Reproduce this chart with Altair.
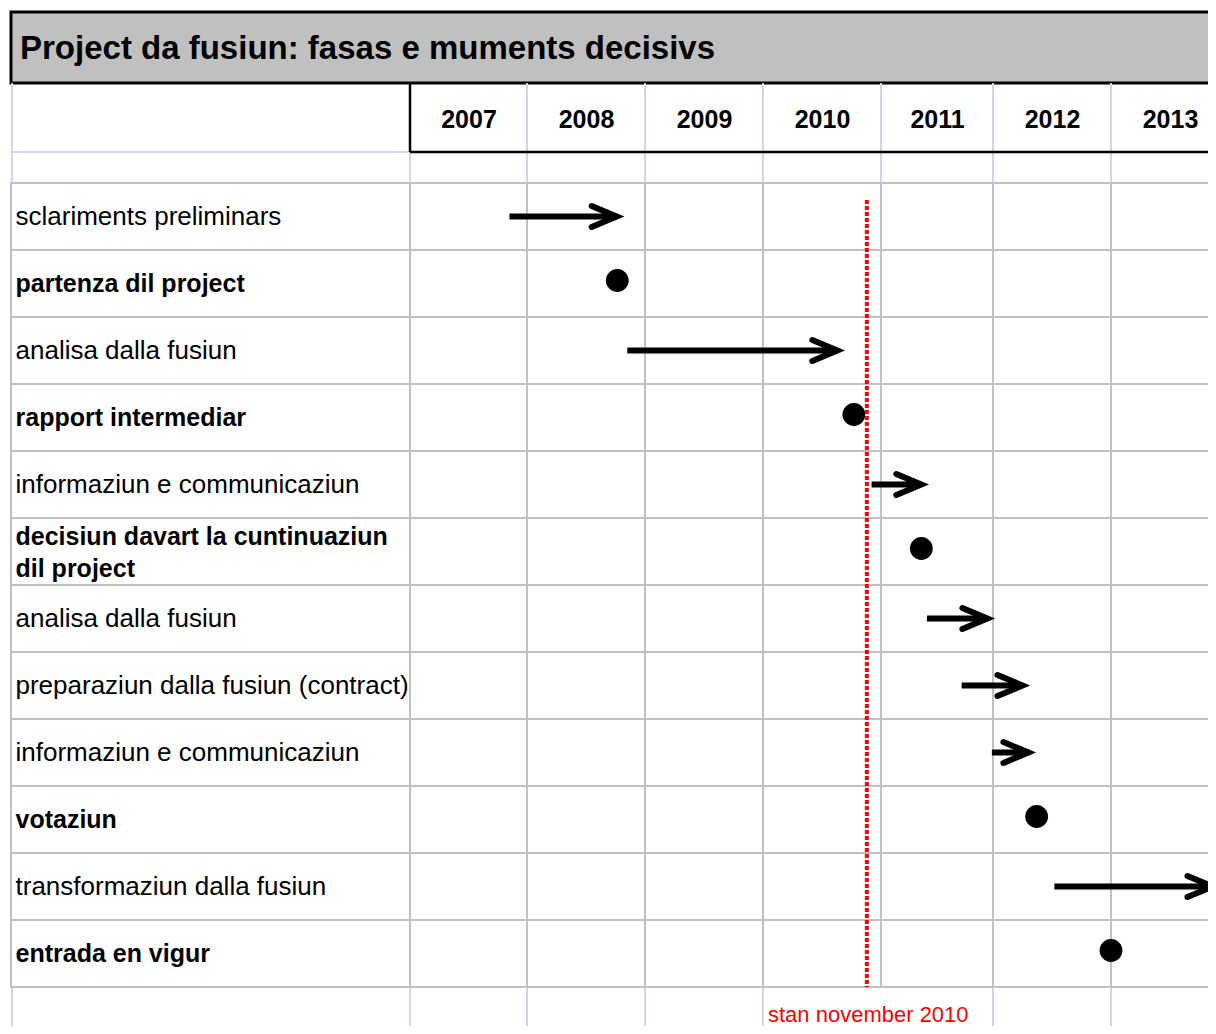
import json
import altair as alt
import pandas as pd

# ---------------- data ----------------
TITLE = "Project da fusiun: fasas e muments decisivs"
YEARS = [2007, 2008, 2009, 2010, 2011, 2012, 2013]
LABELS = [
    "sclariments preliminars",
    "partenza dil project",
    "analisa dalla fusiun",
    "rapport intermediar",
    "informaziun e communicaziun",
    "decisiun davart la cuntinuaziun\ndil project",
    "analisa dalla fusiun",
    "preparaziun dalla fusiun (contract)",
    "informaziun e communicaziun",
    "votaziun",
    "transformaziun dalla fusiun",
    "entrada en vigur",
]
KINDS = ["phase", "milestone", "phase", "milestone", "phase", "milestone",
         "phase", "phase", "phase", "milestone", "phase", "milestone"]
STARTS = [2007.85, 2008.765, 2008.85, 2010.77, 2010.92, 2011.36,
          2011.41, 2011.72, 2011.99, 2012.37, 2012.52, 2013.0]
ENDS = [2008.76, None, 2010.63, None, 2011.36, None,
        2011.95, 2012.25, 2012.30, None, 2013.86, None]
STATUS_DATE = 2010.88
STATUS_CELL_YEAR = 2010
STATUS_LABEL = "stan november 2010"

# ---------------- layout ----------------
FONT = "Liberation Sans"
W, H = 798, 804
EDGE_PX = [0, 117, 235, 353, 471, 583, 701, 819]
GRID_GRAY = "#c0c0c0"
GRID_BLUE = "#d0d7e5"

rows = pd.DataFrame({"idx": list(range(len(LABELS))), "label": LABELS,
                     "kind": KINDS, "start": STARTS, "end": ENDS})
phases = rows[rows.kind == "phase"]
miles = rows[rows.kind == "milestone"]
edges = pd.DataFrame({"edge": YEARS})
edges_bottom = pd.DataFrame({"edge": [y for y in YEARS if y != STATUS_CELL_YEAR + 1]})
status = pd.DataFrame({"date": [STATUS_DATE], "cell": [STATUS_CELL_YEAR], "label": [STATUS_LABEL]})
one = pd.DataFrame({"a": [0]})

XS = alt.Scale(domain=YEARS + [YEARS[-1] + 1], range=EDGE_PX, nice=False, zero=False)
X_AXIS = alt.Axis(orient="top", values=[y + 0.5 for y in YEARS],
                  labelExpr="floor(datum.value) + ''", labelFlush=False,
                  labelOverlap=False, ticks=False, tickSize=0, domain=False,
                  grid=False, title=None, labelPadding=64, labelBaseline="middle",
                  labelFontSize=25, labelFontWeight="bold", labelColor="black",
                  labelFont=FONT)

label_expr = "[" + ",".join(
    json.dumps(l.split("\n")) if "\n" in l else json.dumps(l) for l in LABELS
) + "][datum.value]"
bold_idx = [i for i, k in enumerate(KINDS) if k == "milestone"]
bold_test = "indexof(" + json.dumps(bold_idx) + ", datum.value) >= 0"
multi_idx = [i for i, l in enumerate(LABELS) if "\n" in l]
multi_test = "indexof(" + json.dumps(multi_idx) + ", datum.value) >= 0"

Y_AXIS = alt.Axis(orient="left", labelExpr=label_expr, labelAlign="left",
                  labelPadding=395, ticks=False, tickSize=0, domain=False,
                  grid=False, title=None, labelFont=FONT,
                  labelColor="black", labelLimit=0, labelOverlap=False,
                  labelBaseline="middle", labelLineHeight=32, labelBound=False,
                  labelFontSize={"condition": {"test": bold_test, "value": 25},
                                 "value": 26},
                  labelOffset={"condition": {"test": multi_test, "value": -15},
                               "value": 0},
                  labelFontWeight={"condition": {"test": bold_test, "value": "bold"},
                                   "value": "normal"})
YS = alt.Scale(type="band", domain=list(range(len(LABELS))), paddingInner=0, paddingOuter=0)


def X(field):
    return alt.X(field, scale=XS, axis=X_AXIS)


def Y():
    return alt.Y("idx:O", scale=YS, axis=Y_AXIS)


# ---------------- decorations ----------------
title_box = alt.Chart(one).mark_rect(fill="#c0c0c0", stroke="black", strokeWidth=3).encode(
    x=alt.value(-399), x2=alt.value(W + 20), y=alt.value(-171), y2=alt.value(-100))
title_text = alt.Chart(one).mark_text(align="left", baseline="middle", fontSize=33,
                                      fontWeight="bold", font=FONT, color="black").encode(
    x=alt.value(-390), y=alt.value(-134), text=alt.value(TITLE))

hdr_blue_v = alt.Chart(edges).mark_rule(color=GRID_BLUE, strokeWidth=2).encode(
    x=X("edge:Q"), y=alt.value(-100), y2=alt.value(0))
hdr_blue_left = alt.Chart(one).mark_rule(color=GRID_BLUE, strokeWidth=2).encode(
    x=alt.value(-398), y=alt.value(-100), y2=alt.value(0))
hdr_blue_h = alt.Chart(one).mark_rule(color=GRID_BLUE, strokeWidth=2).encode(
    x=alt.value(-400), x2=alt.value(0), y=alt.value(-31))
hdr_black_v = alt.Chart(one).mark_rule(color="black", strokeWidth=2.5).encode(
    x=alt.value(0), y=alt.value(-100), y2=alt.value(-31))
hdr_black_h = alt.Chart(one).mark_rule(color="black", strokeWidth=2.5).encode(
    x=alt.value(0), x2=alt.value(W + 20), y=alt.value(-31))

bot_blue_v = alt.Chart(edges_bottom).mark_rule(color=GRID_BLUE, strokeWidth=2).encode(
    x=X("edge:Q"), y=alt.value(H), y2=alt.value(H + 60))
bot_blue_left = alt.Chart(one).mark_rule(color=GRID_BLUE, strokeWidth=2).encode(
    x=alt.value(-398), y=alt.value(H), y2=alt.value(H + 60))

row_grid = alt.Chart(rows).mark_rect(fillOpacity=0, stroke=GRID_GRAY, strokeWidth=2).encode(
    y=Y(), x=alt.value(-399), x2=alt.value(W + 20))
col_grid = alt.Chart(edges).mark_rule(color=GRID_GRAY, strokeWidth=2).encode(
    x=X("edge:Q"), y=alt.value(0), y2=alt.value(H))

# ---------------- data marks ----------------
ARROW = "M-1,-0.42L0,0L-1,0.42"
shafts = alt.Chart(phases).mark_rule(color="black", strokeWidth=6).encode(
    x=X("start:Q"), x2="end:Q", y=Y())
heads = alt.Chart(phases).mark_point(shape=ARROW, size=2500, filled=False, stroke="black",
                                     strokeWidth=6, strokeCap="round", strokeJoin="miter",
                                     opacity=1).encode(x=X("end:Q"), y=Y())
dots = alt.Chart(miles).mark_circle(size=520, color="black", opacity=1, yOffset=-3).encode(
    x=X("start:Q"), y=Y())

status_line = alt.Chart(status).mark_rule(color="#ff0000", strokeWidth=4, strokeDash=[4, 2]).encode(
    x=X("date:Q"), y=alt.value(17), y2=alt.value(H))
status_text = alt.Chart(status).mark_text(align="left", baseline="middle", dx=5, fontSize=22,
                                          font=FONT, color="#ff0000").encode(
    x=X("cell:Q"), y=alt.value(H + 28), text="label:N")

chart = alt.layer(
    title_box, title_text,
    hdr_blue_v, hdr_blue_left, hdr_blue_h, hdr_black_v, hdr_black_h,
    bot_blue_v, bot_blue_left,
    row_grid, col_grid,
    shafts, heads, dots,
    status_line, status_text,
).properties(
    width=W, height=H,
    autosize=alt.AutoSizeParams(type="none"),
    padding={"left": 402, "top": 175, "right": 0, "bottom": 39},
).configure_view(stroke=None).configure(font=FONT, background="white")

chart.save("out.html", embed_options={"renderer": "svg", "actions": False})
